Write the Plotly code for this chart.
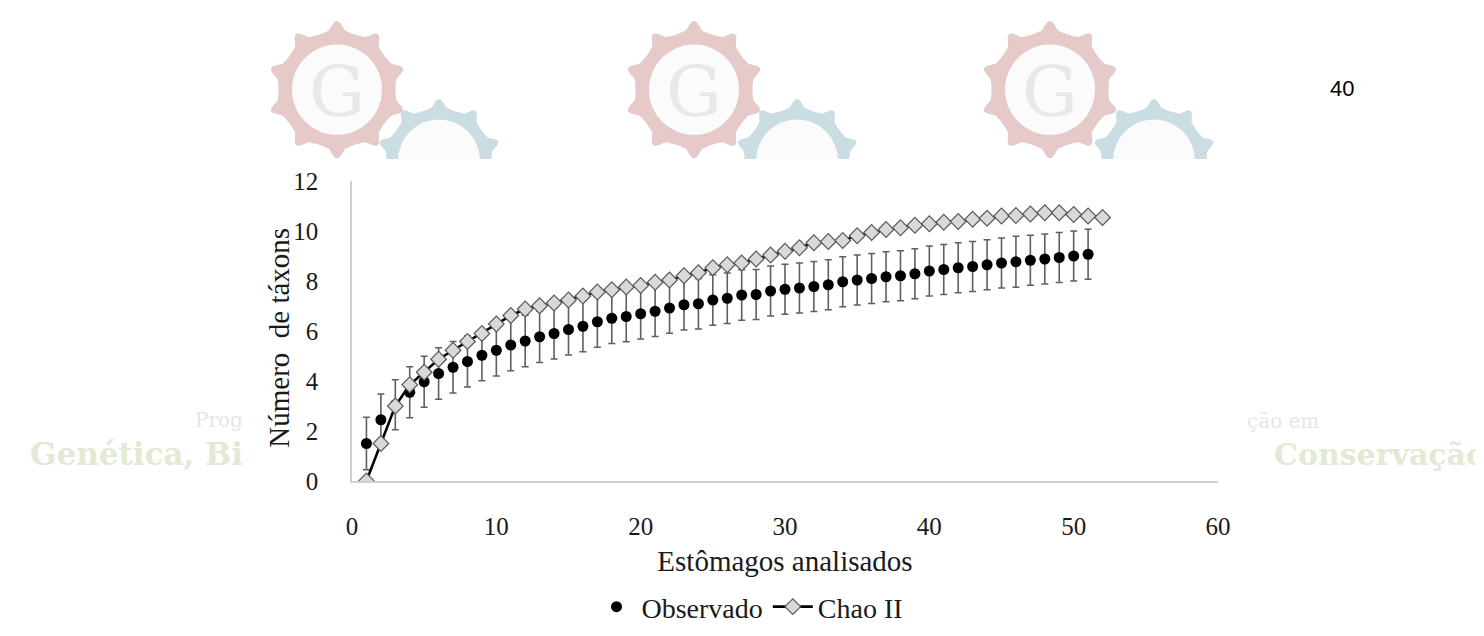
import numpy as np
import plotly.graph_objects as go

# ---------------- data ----------------
amostras_obs = list(range(1, 52))
observado = [1.5, 2.45, 3.05, 3.55, 3.97, 4.3, 4.55, 4.78, 5.03, 5.23,
             5.44, 5.6, 5.77, 5.9, 6.06, 6.19, 6.37, 6.51, 6.58, 6.69,
             6.79, 6.92, 7.05, 7.09, 7.24, 7.31, 7.44, 7.46, 7.6, 7.67,
             7.72, 7.78, 7.85, 7.97, 8.04, 8.1, 8.17, 8.21, 8.29, 8.4,
             8.46, 8.53, 8.58, 8.65, 8.72, 8.77, 8.83, 8.88, 8.94, 9.0,
             9.07]
erro_obs = [1.05, 1.03, 1.0, 1.02, 1.02, 1.03, 1.03, 1.02, 1.02, 1.03,
            1.03, 1.03, 1.03, 1.02, 1.02, 1.02, 1.02, 1.01, 1.01, 1.01,
            1.01, 1.01, 1.01, 1.01, 1.01, 1.01, 1.01, 1.0, 1.0, 1.0,
            1.0, 1.0, 1.0, 1.0, 1.0, 1.0, 1.0, 1.0, 1.0, 1.0,
            1.0, 1.0, 1.0, 1.0, 1.0, 1.02, 1.0, 1.0, 1.0, 1.0,
            1.0]
amostras_chao = list(range(1, 53))
chao2 = [0.0, 1.5, 3.0, 3.85, 4.35, 4.87, 5.23, 5.58, 5.9, 6.28,
         6.62, 6.88, 7.01, 7.12, 7.24, 7.4, 7.56, 7.65, 7.76, 7.82,
         7.95, 8.04, 8.21, 8.33, 8.53, 8.65, 8.72, 8.88, 9.04, 9.19,
         9.33, 9.53, 9.58, 9.62, 9.81, 9.94, 10.06, 10.13, 10.23, 10.29,
         10.35, 10.38, 10.47, 10.51, 10.6, 10.62, 10.68, 10.73, 10.73, 10.66,
         10.6, 10.54]
x_ticks = [0, 10, 20, 30, 40, 50, 60]
y_ticks = [0, 2, 4, 6, 8, 10, 12]

# ---------------- geometry (page pixels) ----------------
W, H = 1484, 636
L, R, T, B = 344, 1210, 173, 485
SERIF = "Liberation Serif, Times New Roman, serif"
INK = "#1a1a1a"


def px2paper(px, py):
    return (px - L) / (R - L), (B - py) / (B - T)


def gear_path(cx, cy, rx, ry, teeth=10, phase=np.pi / 2):
    th = np.linspace(0, 2 * np.pi, 400)
    c = np.cos(teeth * (th - phase))
    k = 0.88 + 0.12 * np.clip(c, 0, 1) ** 2 + 0.02 * c
    pts = []
    for t, f in zip(th, k):
        x, y = px2paper(cx + f * rx * np.cos(t), cy - f * ry * np.sin(t))
        pts.append(f"{x:.5f},{y:.5f}")
    return "M" + " L".join(pts) + " Z"


def ellipse_shape(cx, cy, rx, ry, color):
    x0, y0 = px2paper(cx - rx, cy + ry)
    x1, y1 = px2paper(cx + rx, cy - ry)
    return dict(type="circle", xref="paper", yref="paper", x0=x0, y0=y0,
                x1=x1, y1=y1, fillcolor=color, line=dict(width=0),
                layer="below")


shapes = []
pink, blue = "#e6caca", "#cadde3"
pink_c = [(329, 78), (686, 78), (1042, 78)]
blue_c = [(431, 152), (789, 152), (1146, 152)]
for (cx, cy) in pink_c:
    shapes.append(dict(type="path", xref="paper", yref="paper",
                       path=gear_path(cx, cy, 68, 70), fillcolor=pink,
                       line=dict(width=0), layer="below"))
    shapes.append(ellipse_shape(cx, cy, 45, 47, "#fbfbfb"))
for (cx, cy) in blue_c:
    shapes.append(dict(type="path", xref="paper", yref="paper",
                       path=gear_path(cx, cy, 61, 63), fillcolor=blue,
                       line=dict(width=0), layer="below"))
    shapes.append(ellipse_shape(cx, cy, 41, 43, "#fbfbfb"))
# white panel of the chart image covering the watermark
x0, y0 = px2paper(237, 636)
x1, y1 = px2paper(1230, 150)
shapes.append(dict(type="rect", xref="paper", yref="paper", x0=x0, y0=y0,
                   x1=x1, y1=y1, fillcolor="white", line=dict(width=0),
                   layer="below"))

annotations = []


def add_text(text, px, py, size, color, family, xanchor="center",
             bold=False, angle=0):
    x, y = px2paper(px, py)
    annotations.append(dict(text=f"<b>{text}</b>" if bold else text,
                            x=x, y=y, xref="paper", yref="paper",
                            xanchor=xanchor, yanchor="middle", showarrow=False,
                            textangle=angle,
                            font=dict(size=size, color=color, family=family)))


for (cx, cy) in pink_c:
    add_text("G", cx, cy + 2, 70, "#e8e8e8", "DejaVu Serif")
add_text("40", 1334, 77, 22, "#000000", "Liberation Sans, Arial, sans-serif")
add_text("Prog", 237, 422, 20, "#e6e6e6", "DejaVu Serif", xanchor="right")
add_text("Genética, Bi", 237, 457, 31, "#e2e9d5", "DejaVu Serif",
         xanchor="right", bold=True)
add_text("ção em", 1313, 423, 20, "#e6e6e6", "DejaVu Serif", xanchor="right")
add_text("Conservação", 1480, 457, 30, "#e2e9d5", "DejaVu Serif",
         xanchor="right", bold=True)
# y-axis title
add_text("Número  de táxons", 271, 336, 29, INK, SERIF, angle=-90)

# ---------------- figure ----------------
fig = go.Figure()
fig.add_trace(go.Scatter(
    x=amostras_obs, y=observado, mode="markers", name="Observado",
    marker=dict(symbol="circle", size=11, color="#000000"),
    error_y=dict(type="data", array=erro_obs, visible=True,
                 color="#5f5f5f", thickness=1.6, width=3.5),
))
fig.add_trace(go.Scatter(
    x=amostras_chao, y=chao2, mode="lines+markers", name="Chao II",
    line=dict(color="#000000", width=2.6),
    marker=dict(symbol="diamond", size=12, color="#d9d9d9",
                line=dict(color="#5a5a5a", width=1.2)),
))

fig.update_layout(
    width=W, height=H, autosize=False,
    margin=dict(l=L, r=W - R, t=T, b=H - B),
    paper_bgcolor="white", plot_bgcolor="rgba(0,0,0,0)",
    font=dict(family=SERIF, size=25, color=INK),
    showlegend=True,
    legend=dict(orientation="h", x=(742 - L) / (R - L), xanchor="center",
                y=(B - 616) / (B - T), yanchor="middle",
                font=dict(family=SERIF, size=28, color=INK),
                bgcolor="rgba(0,0,0,0)", itemwidth=40, tracegroupgap=0),
    shapes=shapes, annotations=annotations,
)
fig.update_xaxes(
    range=[0, 60], tickvals=x_ticks, showgrid=False, zeroline=False,
    showline=True, linecolor="#cfcfcf", linewidth=1.5,
    ticks="outside", ticklen=0, ticklabelstandoff=22,
    tickfont=dict(family=SERIF, size=25, color=INK),
    title=dict(text="Estômagos analisados", standoff=12,
               font=dict(family=SERIF, size=29, color=INK)),
)
fig.update_yaxes(
    range=[0, 12], tickvals=y_ticks, showgrid=False, zeroline=False,
    showline=True, linecolor="#cfcfcf", linewidth=1.5,
    ticks="outside", ticklen=0, ticklabelstandoff=27,
    tickfont=dict(family=SERIF, size=25, color=INK),
)

fig.write_html("out.html")
